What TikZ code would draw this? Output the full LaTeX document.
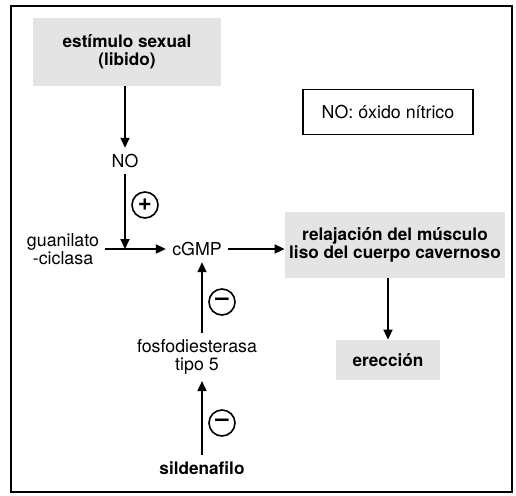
\documentclass[tikz,border=0pt]{standalone}
\usepackage{fontspec}
\setmainfont{TeX Gyre Heros}
\usetikzlibrary{arrows.meta}
\definecolor{shade}{RGB}{228,228,228}

\begin{document}
\begin{tikzpicture}[x=0.5pt,y=-0.5pt,
        label/.style={font=\fontsize{8.9}{9.2}\selectfont,align=center,inner sep=3pt},
        shaded/.style={fill=shade,align=center,inner sep=0pt,
                       font=\fontsize{8.6}{9.2}\selectfont\bfseries},
        keybox/.style={draw,line width=0.6pt,minimum width=85pt,minimum height=22.5pt,
                       font=\fontsize{8.9}{9.2}\selectfont},
        sign/.style={draw,circle,line width=0.8pt,minimum size=13pt,inner sep=0pt,
                     font=\fontsize{12}{12}\selectfont\bfseries},
        arrow/.style={-{Triangle[length=5pt,width=4.5pt]},line width=0.9pt}]
    \useasboundingbox (0,0) rectangle (516,495);
    \draw[line width=1pt] (11,6) rectangle (512,492);
    % nodes
    \node[shaded,minimum width=94pt,minimum height=34pt] (stim) at (127,52)
        {estímulo sexual\\(libido)};
    \node[label] (no) at (125,161) {NO};
    \node[keybox] (key) at (388,112) {NO: óxido nítrico};
    \node[label] (gc) at (63,249) {guanilato\\-ciclasa};
    \node[label] (cgmp) at (197,249) {cGMP};
    \node[shaded,minimum width=110pt,minimum height=33pt] (relax) at (395,245)
        {relajación del músculo\\liso del cuerpo cavernoso};
    \node[shaded,minimum width=52pt,minimum height=20pt] (erec) at (388,360) {erección};
    \node[label] (pde) at (197,357) {fosfodiesterasa\\tipo 5};
    \node[label,font=\fontsize{8.6}{9.2}\selectfont\bfseries] (sil) at (202,468) {sildenafilo};
    \node[sign] (plus) at (145,205) {+};
    \node[sign] (minusA) at (222,302) {–};
    \node[sign] (minusB) at (222,423) {–};
    % connectors
    \draw[arrow] (stim.south -| no) -- (no);
    \draw[arrow] (gc) -- (cgmp);
    \draw[arrow] (no) -- (no |- cgmp);
    \draw[arrow] (cgmp) -- (cgmp -| relax.west);
    \draw[arrow] (relax.south -| erec) -- (erec);
    \draw[arrow] (sil |- pde.north) -- (sil |- cgmp.south);
    \draw[arrow] (sil) -- (sil |- pde.south);
\end{tikzpicture}
\end{document}
